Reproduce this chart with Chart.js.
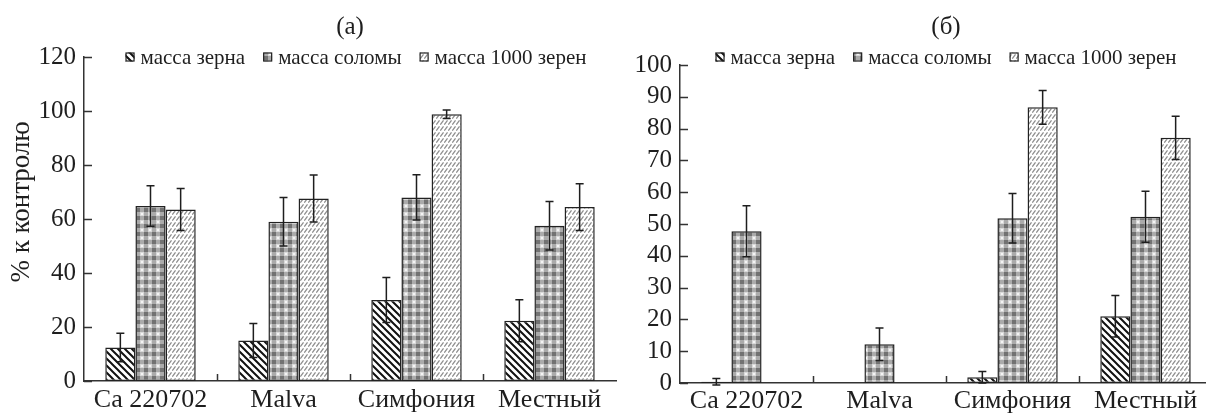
<!DOCTYPE html>
<html lang="ru">
<head>
<meta charset="utf-8">
<title>Масса зерна, соломы и 1000 зерен, % к контролю</title>
<script src="https://cdn.jsdelivr.net/npm/chart.js@4.4.1/dist/chart.umd.min.js"></script>
<style>
  html, body { margin: 0; padding: 0; background: #fff; overflow: hidden; }
  #wrap { position: relative; width: 1206px; height: 419px; overflow: hidden; }
  #chartA { position: absolute; left: 0; top: 0; }
  #chartB { position: absolute; left: 620px; top: 0; }
</style>
</head>
<body>
<div id="wrap">
  <canvas id="chartA" width="620" height="419"></canvas>
  <canvas id="chartB" width="592" height="419"></canvas>
</div>
<script>
// Сорта (категории) и названия рядов
const categories = ["Ca 220702", "Malva", "Симфония", "Местный"];
const seriesNames = ["масса зерна", "масса соломы", "масса 1000 зерен"];

// (а) — значения и ошибки
const grainA = [12.4, 15.0, 30.0, 22.3];
const grainErrA = [5.3, 6.3, 8.3, 7.8];
const strawA = [64.8, 59.0, 68.0, 57.5];
const strawErrA = [7.5, 9.0, 8.4, 9.0];
const kernelA = [63.5, 67.6, 98.8, 64.4];
const kernelErrA = [7.8, 8.7, 1.6, 8.7];

// (б) — значения и ошибки
const grainB = [0.4, 0, 1.8, 21.0];
const grainErrB = [1.0, 0, 1.8, 6.5];
const strawB = [47.7, 12.2, 51.8, 52.3];
const strawErrB = [8.0, 5.1, 7.8, 8.0];
const kernelB = [0, 0, 86.7, 77.1];
const kernelErrB = [0, 0, 5.3, 6.8];

const SERIF = '"Liberation Serif", "DejaVu Serif", serif';
const INK = "#1e1e1e";
const AXIS = "#333";
const EDGE = "#222";

// штриховки для столбиков
function makePattern(kind) {
  const c = document.createElement("canvas");
  const g = c.getContext("2d");
  if (kind === "hatch") {
    c.width = 7; c.height = 7;
    g.fillStyle = "#fff"; g.fillRect(0, 0, 7, 7);
    g.strokeStyle = "#111"; g.lineWidth = 2;
    g.beginPath();
    g.moveTo(-1, -1); g.lineTo(8, 8);
    g.moveTo(-1, 6); g.lineTo(1, 8);
    g.moveTo(6, -1); g.lineTo(8, 1);
    g.stroke();
  } else if (kind === "check") {
    c.width = 8; c.height = 8;
    g.fillStyle = "#d9d9d9"; g.fillRect(0, 0, 8, 8);
    g.fillStyle = "#727272"; g.fillRect(0, 0, 4, 4);
    g.fillStyle = "#ababab"; g.fillRect(4, 0, 4, 4); g.fillRect(0, 4, 4, 4);
    g.fillStyle = "#f4f4f4"; g.fillRect(5, 5, 2, 2);
  } else {
    c.width = 4; c.height = 6;
    g.fillStyle = "#fff"; g.fillRect(0, 0, 4, 6);
    g.strokeStyle = "#8c8c8c"; g.lineWidth = 1.2;
    g.beginPath();
    g.moveTo(0.3, 4.7); g.lineTo(3.5, 0.3);
    g.stroke();
  }
  return g.createPattern(c, "repeat");
}

const fills = [makePattern("hatch"), makePattern("check"), makePattern("slash")];

// планки погрешностей
const errorBars = {
  id: "errorBars",
  afterDatasetsDraw(chart) {
    const { ctx } = chart;
    const y = chart.scales.y;
    ctx.save();
    ctx.strokeStyle = INK;
    ctx.lineWidth = 1.5;
    chart.data.datasets.forEach((ds, i) => {
      const meta = chart.getDatasetMeta(i);
      meta.data.forEach((bar, j) => {
        const err = ds.errors[j];
        if (!err) return;
        const top = y.getPixelForValue(ds.data[j] + err);
        const bottom = y.getPixelForValue(ds.data[j] - err);
        ctx.beginPath();
        ctx.moveTo(bar.x, top); ctx.lineTo(bar.x, bottom);
        ctx.moveTo(bar.x - 4, top); ctx.lineTo(bar.x + 4, top);
        ctx.moveTo(bar.x - 4, bottom); ctx.lineTo(bar.x + 4, bottom);
        ctx.stroke();
      });
    });
    ctx.restore();
  },
};

// засечки внутрь графика
const innerTicks = {
  id: "innerTicks",
  afterDatasetsDraw(chart) {
    const { ctx, chartArea } = chart;
    const { x, y } = chart.scales;
    ctx.save();
    ctx.strokeStyle = AXIS;
    ctx.lineWidth = 1.5;
    ctx.beginPath();
    y.ticks.forEach((t) => {
      const py = Math.round(y.getPixelForValue(t.value)) + 0.5;
      ctx.moveTo(chartArea.left, py);
      ctx.lineTo(chartArea.left + 8, py);
    });
    for (let i = 1; i < x.ticks.length; i++) {
      const px = Math.round((x.getPixelForValue(i - 1) + x.getPixelForValue(i)) / 2) + 0.5;
      ctx.moveTo(px, chartArea.bottom);
      ctx.lineTo(px, chartArea.bottom - 7);
    }
    ctx.stroke();
    ctx.restore();
  },
};

// легенда с маленькими образцами штриховки
const patternLegend = {
  id: "patternLegend",
  afterDraw(chart, args, opts) {
    const { ctx, chartArea } = chart;
    const box = 9, gap = 6, spacing = 18;
    ctx.save();
    ctx.font = `21px ${SERIF}`;
    const items = chart.data.datasets.map((ds) => ({ ds, w: ctx.measureText(ds.label).width }));
    const total = items.reduce((s, it) => s + box + gap + it.w, 0) + spacing * (items.length - 1);
    let x = (chartArea.left + chartArea.right) / 2 - total / 2 + (opts.shift || 0);
    const y = opts.y;
    ctx.textBaseline = "middle";
    items.forEach((it) => {
      ctx.fillStyle = it.ds.backgroundColor;
      ctx.fillRect(x, y - box / 2, box, box);
      ctx.strokeStyle = EDGE;
      ctx.lineWidth = 1.2;
      ctx.strokeRect(x + 0.5, y - box / 2 + 0.5, box - 1, box - 1);
      ctx.fillStyle = INK;
      ctx.fillText(it.ds.label, x + box + gap, y + 1);
      x += box + gap + it.w + spacing;
    });
    ctx.restore();
  },
};

// подпись оси Y (повернутая)
const sideTitle = {
  id: "sideTitle",
  afterDraw(chart, args, opts) {
    if (!opts.text) return;
    const { ctx } = chart;
    ctx.save();
    ctx.translate(opts.x, opts.y);
    ctx.rotate(-Math.PI / 2);
    ctx.font = `27px ${SERIF}`;
    ctx.fillStyle = INK;
    ctx.textAlign = "center";
    ctx.textBaseline = "middle";
    ctx.fillText(opts.text, 0, 0);
    ctx.restore();
  },
};

function makeDatasets(values, errors) {
  return values.map((data, i) => ({
    label: seriesNames[i],
    data,
    errors: errors[i],
    backgroundColor: fills[i],
    borderColor: EDGE,
    borderWidth: 1.5,
    borderSkipped: false,
    barPercentage: 1,
    categoryPercentage: 0.68,
  }));
}

function makeChart(canvasId, cfg) {
  return new Chart(document.getElementById(canvasId), {
    type: "bar",
    data: { labels: categories, datasets: makeDatasets(cfg.values, cfg.errors) },
    plugins: [errorBars, innerTicks, patternLegend, sideTitle],
    options: {
      responsive: false,
      animation: false,
      devicePixelRatio: 1,
      layout: { padding: { left: 0, right: cfg.padRight, top: 0, bottom: 0 } },
      scales: {
        x: {
          ticks: {
            padding: cfg.xPad,
            color: INK,
            autoSkip: false,
            maxRotation: 0,
            font: { family: SERIF, size: 26, lineHeight: 1 },
          },
          grid: { display: false, drawTicks: false },
          border: { display: true, color: AXIS, width: 1.5 },
        },
        y: {
          min: 0,
          max: cfg.max,
          ticks: {
            stepSize: cfg.step,
            padding: 8,
            color: INK,
            font: { family: SERIF, size: 25, lineHeight: 1 },
          },
          grid: { display: false, drawTicks: false },
          border: { display: true, color: AXIS, width: 1.5 },
          afterFit: (scale) => { scale.width = cfg.axisWidth; },
        },
      },
      plugins: {
        legend: { display: false },
        tooltip: { enabled: false },
        title: {
          display: true,
          text: cfg.title,
          fullSize: false,
          color: INK,
          font: { family: SERIF, size: 25, weight: "normal", lineHeight: 1.2 },
          padding: { top: 12, bottom: cfg.titleBottom },
        },
        patternLegend: { y: 57, shift: cfg.legendShift },
        sideTitle: cfg.sideTitle,
      },
    },
  });
}

makeChart("chartA", {
  title: "(а)",
  values: [grainA, strawA, kernelA],
  errors: [grainErrA, strawErrA, kernelErrA],
  max: 120, step: 20,
  axisWidth: 84, padRight: 4, xPad: 6,
  titleBottom: 15, legendShift: 6,
  sideTitle: { text: "% к контролю", x: 22, y: 202 },
});

makeChart("chartB", {
  title: "(б)",
  values: [grainB, strawB, kernelB],
  errors: [grainErrB, strawErrB, kernelErrB],
  max: 100, step: 10,
  axisWidth: 60, padRight: 0, xPad: 5,
  titleBottom: 23, legendShift: 0,
  sideTitle: { text: "" },
});
</script>
</body>
</html>
